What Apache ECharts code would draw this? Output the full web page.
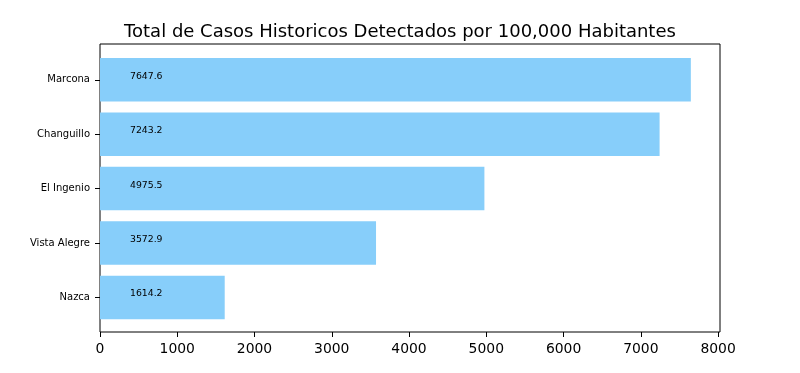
<!DOCTYPE html>
<html><head><meta charset="utf-8">
<script src="https://cdn.jsdelivr.net/npm/echarts@6/dist/echarts.min.js"></script>
<style>html,body{margin:0;padding:0;background:#fff}#c{width:800px;height:373px}</style>
</head><body><div id="c"></div>
<script>
const categories = ['Marcona', 'Changuillo', 'El Ingenio', 'Vista Alegre', 'Nazca'];
const values = [7647.6, 7243.2, 4975.5, 3572.9, 1614.2];
const xTicks = [0, 1000, 2000, 3000, 4000, 5000, 6000, 7000, 8000];
const titleText = 'Total de Casos Historicos Detectados por 100,000 Habitantes';
const xMax = 8025;

const font = 'DejaVu Sans';
const chart = echarts.init(document.getElementById('c'), null, {renderer: 'canvas'});
chart.setOption({
  animation: false,
  backgroundColor: '#fff',
  title: {
    text: titleText, left: 395, top: 18, textAlign: 'center',
    textStyle: {fontFamily: font, fontSize: 18, fontWeight: 'normal', color: '#000'}
  },
  grid: [
    {left: 100, top: 44, width: 620, height: 288, show: true, borderColor: '#000', borderWidth: 1, backgroundColor: 'transparent'},
    {left: 100, top: 52.6, width: 620, height: 272}
  ],
  xAxis: [
    {gridIndex: 0, type: 'value', min: 0, max: xMax,
     axisLine: {show: false}, splitLine: {show: false},
     axisTick: {show: true, length: 5, customValues: xTicks, lineStyle: {color: '#000'}},
     axisLabel: {show: true, customValues: xTicks, margin: 10, fontFamily: font, fontSize: 13.9, color: '#000',
       formatter: v => String(v)}},
    {gridIndex: 1, type: 'value', min: 0, max: xMax, show: false}
  ],
  yAxis: [
    {gridIndex: 0, type: 'value', show: false},
    {gridIndex: 1, type: 'category', data: categories, inverse: true,
     axisLine: {show: false},
     axisTick: {show: true, length: 5, alignWithLabel: true, lineStyle: {color: '#000'}},
     axisLabel: {margin: 10, fontFamily: font, fontSize: 10, color: '#000', padding: [2, 0, 0, 0]},
     splitLine: {show: false}}
  ],
  series: [{
    type: 'bar', xAxisIndex: 1, yAxisIndex: 1, data: values,
    barCategoryGap: '20%',
    itemStyle: {color: '#87CEFA'},
    label: {show: true, position: [30, '50%'], align: 'left', verticalAlign: 'middle', offset: [0, -3.5],
      fontFamily: font, fontSize: 9.3, color: '#000',
      formatter: p => p.value.toFixed(1)}
  }]
});
</script></body></html>
